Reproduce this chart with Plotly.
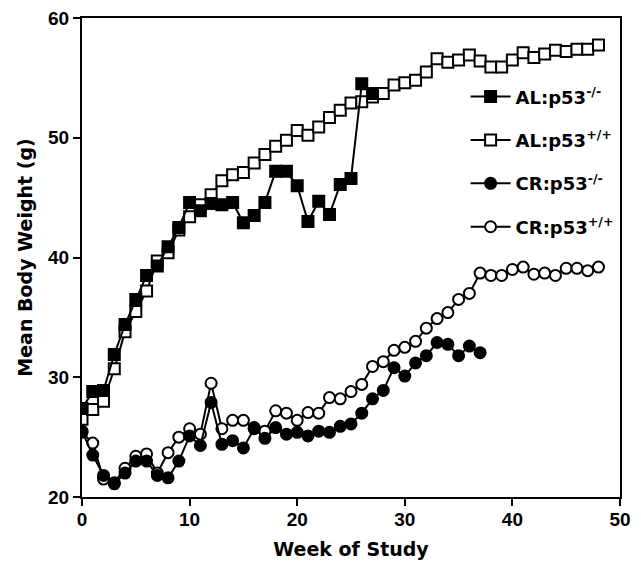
import plotly.graph_objects as go

weeks_al_ko = list(range(0, 28))
al_ko = [27.4, 28.8, 28.9, 31.9, 34.4, 36.5, 38.5, 39.3, 40.9, 42.5,
         44.6, 43.9, 44.5, 44.4, 44.6, 42.9, 43.5, 44.6, 47.2, 47.2,
         46.0, 43.0, 44.7, 43.6, 46.1, 46.6, 54.5, 53.7]

weeks_al_wt = list(range(0, 49))
al_wt = [26.5, 27.3, 28.0, 30.7, 33.8, 35.5, 37.2, 39.7, 40.4, 42.3,
         43.4, 44.4, 45.25, 46.4, 46.9, 47.1, 47.9, 48.6, 49.3, 49.8,
         50.6, 50.2, 50.9, 51.7, 52.3, 52.9, 53.0, 53.4, 53.7, 54.4,
         54.6, 54.8, 55.5, 56.6, 56.3, 56.5, 56.9, 56.4, 55.9, 55.9,
         56.5, 57.1, 56.7, 57.0, 57.3, 57.2, 57.4, 57.4, 57.75]

weeks_cr_ko = list(range(0, 38))
cr_ko = [25.5, 23.5, 21.8, 21.1, 22.0, 23.0, 23.0, 21.8, 21.6, 23.0,
         25.1, 24.3, 27.9, 24.4, 24.7, 24.1, 25.7, 24.9, 25.8, 25.25,
         25.4, 25.1, 25.5, 25.4, 25.9, 26.1, 27.0, 28.2, 28.9, 30.8,
         30.1, 31.2, 31.8, 32.9, 32.75, 31.8, 32.6, 32.05]

weeks_cr_wt = list(range(0, 49))
cr_wt = [25.4, 24.5, 21.5, 21.2, 22.4, 23.4, 23.6, 22.0, 23.7, 25.0,
         25.7, 25.25, 29.5, 25.7, 26.4, 26.4, 25.8, 25.5, 27.2, 27.0,
         26.4, 27.05, 27.0, 28.3, 28.2, 28.8, 29.4, 30.9, 31.3, 32.25,
         32.5, 33.0, 34.1, 34.9, 35.4, 36.5, 37.0, 38.7, 38.5, 38.5,
         39.0, 39.2, 38.6, 38.7, 38.5, 39.1, 39.1, 38.9, 39.2]

names = ["AL:p53<sup>-/-</sup>", "AL:p53<sup>+/+</sup>",
         "CR:p53<sup>-/-</sup>", "CR:p53<sup>+/+</sup>"]

FONT = "DejaVu Sans"
TICKFONT = "Liberation Sans"

fig = go.Figure()

def add(x, y, name, symbol, fill, group, rank):
    fig.add_trace(go.Scatter(
        x=x, y=y, name=name, mode="lines+markers", legendgroup=group,
        legendrank=rank,
        line=dict(color="black", width=2),
        marker=dict(symbol=symbol, size=11,
                    color="black" if fill else "white",
                    line=dict(color="black", width=2)),
    ))

# draw order: open series under filled where overlap
add(weeks_al_wt, al_wt, names[1], "square", False, "b", 2)
add(weeks_al_ko, al_ko, names[0], "square", True, "a", 1)
add(weeks_cr_wt, cr_wt, names[3], "circle", False, "d", 4)
add(weeks_cr_ko, cr_ko, names[2], "circle", True, "c", 3)

# the page body adds an 8px offset, so the figure is sized to fit the window
fig.update_layout(
    width=633, height=555,
    margin=dict(l=74, r=21, t=10, b=66, autoexpand=False),
    paper_bgcolor="white", plot_bgcolor="white",
    showlegend=True,
    legend=dict(
        x=0.713, y=0.874, xanchor="left", yanchor="top",
        font=dict(family=FONT, size=18, color="black", weight="bold"),
        bgcolor="rgba(0,0,0,0)",
        traceorder="grouped", tracegroupgap=17,
        itemwidth=40,
    ),
    font=dict(family=FONT, color="black"),
    # overlay axes that only draw the top and right frame lines
    xaxis2=dict(overlaying="x", side="top", range=[0, 50], matches=None,
                showline=True, linecolor="black", linewidth=2,
                showticklabels=False, ticks="", showgrid=False,
                zeroline=False, automargin=False),
    yaxis2=dict(overlaying="y", side="right", range=[20, 60],
                showline=True, linecolor="black", linewidth=2,
                showticklabels=False, ticks="", showgrid=False,
                zeroline=False, automargin=False),
)

fig.update_xaxes(
    selector=dict(anchor="y"),
    range=[0, 50], tickvals=[0, 10, 20, 30, 40, 50],
    showgrid=False, zeroline=False, automargin=False,
    showline=True, linecolor="black", linewidth=2, mirror=True,
    ticks="outside", ticklen=7, tickwidth=2, tickcolor="black",
    ticklabeloverflow="allow", ticklabelstandoff=-3,
    tickfont=dict(family=TICKFONT, size=19, color="black", weight="bold"),
    title=dict(text="Week of Study", standoff=14,
               font=dict(family=FONT, size=19, color="black", weight="bold")),
)
fig.update_layout(
    xaxis=dict(
        range=[0, 50], tickvals=[0, 10, 20, 30, 40, 50],
        showgrid=False, zeroline=False, automargin=False,
        showline=True, linecolor="black", linewidth=2, mirror=True,
        ticks="outside", ticklen=7, tickwidth=2, tickcolor="black",
        ticklabeloverflow="allow", ticklabelstandoff=-3,
        tickfont=dict(family=TICKFONT, size=19, color="black", weight="bold"),
        title=dict(text="Week of Study", standoff=14,
                   font=dict(family=FONT, size=19, color="black", weight="bold")),
    ),
    yaxis=dict(
        range=[20, 60], tickvals=[20, 30, 40, 50, 60],
        showgrid=False, zeroline=False, automargin=False,
        showline=True, linecolor="black", linewidth=2, mirror=True,
        ticks="outside", ticklen=7, tickwidth=2, tickcolor="black",
        ticklabeloverflow="allow",
        tickfont=dict(family=TICKFONT, size=19, color="black", weight="bold"),
        title=dict(text="Mean Body Weight (g)", standoff=10,
                   font=dict(family=FONT, size=19, color="black", weight="bold")),
    ),
)

# an empty trace bound to the overlay axes so they are rendered
fig.add_trace(go.Scatter(x=[], y=[], xaxis="x2", yaxis="y2",
                         showlegend=False, hoverinfo="skip"))

fig.write_html("out.html")
